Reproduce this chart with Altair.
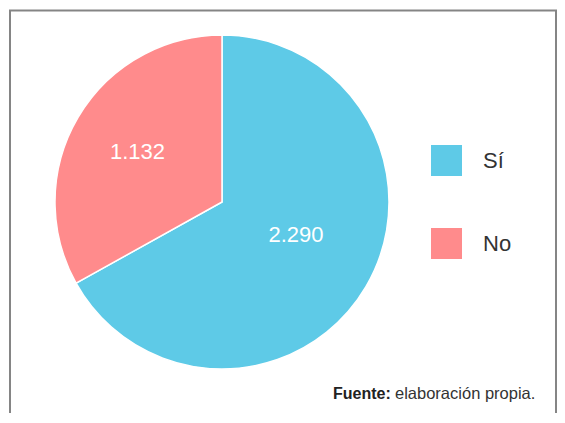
import altair as alt
import pandas as pd

categories = ["Sí", "No"]
values = [2290, 1132]
labels = ["2.290", "1.132"]
colors = ["#5ECAE7", "#FF8B8C"]
source_bold = "Fuente:"
source_text = "elaboración propia."

df = pd.DataFrame({"cat": categories, "value": values, "label": labels, "ord": [0, 1]})

CX, CY, R = 214, 194, 167
W, H = 549, 405
FONT = "Liberation Sans"

base = alt.Chart(df).encode(
    theta=alt.Theta("value:Q", stack=True),
    order=alt.Order("ord:Q"),
)

pie = base.mark_arc(outerRadius=R, stroke="white", strokeWidth=1.5).encode(
    x=alt.value(CX), y=alt.value(CY),
    color=alt.Color(
        "cat:N",
        scale=alt.Scale(domain=categories, range=colors),
        sort=categories,
        legend=alt.Legend(
            title=None, orient="none", legendX=423, legendY=137,
            symbolType="square", symbolSize=961, symbolStrokeWidth=0,
            labelFontSize=22, labelFont=FONT, labelColor="#333333",
            labelOffset=21, rowPadding=52,
        ),
    ),
)

text_si = base.mark_text(radius=80, dx=5, dy=-8, fontSize=22, font=FONT, color="white").encode(
    x=alt.value(CX), y=alt.value(CY),
    text=alt.condition(alt.datum.cat == "Sí", "label:N", alt.value("")),
)
text_no = base.mark_text(radius=98, fontSize=22, font=FONT, color="white").encode(
    x=alt.value(CX), y=alt.value(CY),
    text=alt.condition(alt.datum.cat == "No", "label:N", alt.value("")),
)

src_df = pd.DataFrame({"a": [source_bold], "b": [source_text]})
src1 = alt.Chart(src_df).mark_text(
    align="left", baseline="middle", fontSize=16, font=FONT, fontWeight="bold", color="#222222"
).encode(x=alt.value(325), y=alt.value(386), text="a:N")
src2 = alt.Chart(src_df).mark_text(
    align="left", baseline="middle", fontSize=16.5, font=FONT, color="#333333"
).encode(x=alt.value(387), y=alt.value(386), text="b:N")

frame_col = "#858585"
left = alt.Chart(src_df).mark_rule(color=frame_col, strokeWidth=2).encode(
    x=alt.value(2), y=alt.value(2), y2=alt.value(H + 10))
top = alt.Chart(src_df).mark_rule(color=frame_col, strokeWidth=2).encode(
    x=alt.value(1), x2=alt.value(549), y=alt.value(2.5))
right = alt.Chart(src_df).mark_rule(color=frame_col, strokeWidth=2).encode(
    x=alt.value(548), y=alt.value(2), y2=alt.value(H + 10))

chart = alt.layer(pie, text_si, text_no, src1, src2, left, top, right).properties(
    width=W, height=H, padding=0, autosize=alt.AutoSizeParams(type="none")
).configure_view(stroke=None)

chart.save("out.html", embed_options={"renderer": "svg", "actions": False})
